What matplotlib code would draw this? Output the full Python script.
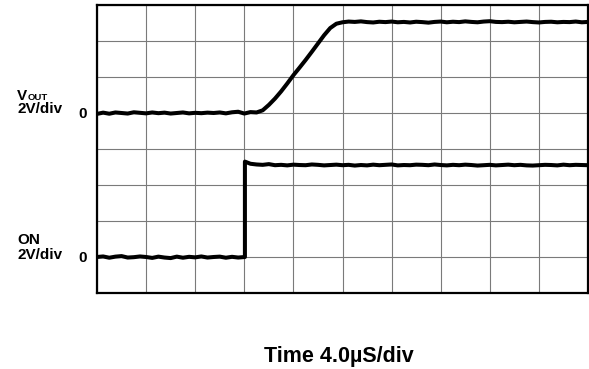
import matplotlib.pyplot as plt

plt.rcParams["font.family"] = ["Liberation Sans", "DejaVu Sans"]

# time in microseconds (4.0 us/div, 10 divisions)
vout_time = [0.0, 0.5, 1.0, 1.5, 2.0, 2.5, 3.0, 3.5, 4.0, 4.5, 5.0, 5.5, 6.0, 6.5,
             7.0, 7.5, 8.0, 8.5, 9.0, 9.5, 10.0, 10.5, 11.0, 11.5, 12.0, 12.5, 13.0,
             13.5, 14.0, 14.5, 15.0, 15.5, 16.0, 16.5, 17.0, 17.5, 18.0, 18.5, 19.0,
             19.5, 20.0, 20.5, 21.0, 21.5, 22.0, 22.5, 23.0, 23.5, 24.0, 24.5, 25.0,
             25.5, 26.0, 26.5, 27.0, 27.5, 28.0, 28.5, 29.0, 29.5, 30.0, 30.5, 31.0,
             31.5, 32.0, 32.5, 33.0, 33.5, 34.0, 34.5, 35.0, 35.5, 36.0, 36.5, 37.0,
             37.5, 38.0, 38.5, 39.0, 39.5, 40.0]
vout_volts = [-0.05, 0.02, -0.04, 0.03, 0.0, -0.03, 0.04, 0.01, -0.02, 0.03, -0.01,
              0.02, -0.03, 0.0, 0.03, -0.02, 0.01, -0.01, 0.02, 0.0, 0.03, -0.02,
              0.04, 0.07, -0.03, 0.05, 0.03,
              0.15, 0.45, 0.80, 1.20, 1.64, 2.10, 2.52, 2.95, 3.40, 3.86, 4.32, 4.72,
              4.96, 5.04, 5.08, 5.06, 5.09, 5.05, 5.03, 5.07, 5.05, 5.08, 5.04, 5.06,
              5.03, 5.07, 5.05, 5.02, 5.06, 5.08, 5.04, 5.07, 5.05, 5.09, 5.06, 5.04,
              5.08, 5.10, 5.06, 5.05, 5.07, 5.04, 5.06, 5.08, 5.05, 5.03, 5.06, 5.07,
              5.04, 5.06, 5.05, 5.08, 5.04, 5.06]

on_time = [0.0, 0.5, 1.0, 1.5, 2.0, 2.5, 3.0, 3.5, 4.0, 4.5, 5.0, 5.5, 6.0, 6.5,
           7.0, 7.5, 8.0, 8.5, 9.0, 9.5, 10.0, 10.5, 11.0, 11.5, 12.05,
           12.05, 12.5, 13.0, 13.5, 14.0, 14.5, 15.0, 15.5, 16.0, 16.5, 17.0, 17.5,
           18.0, 18.5, 19.0, 19.5, 20.0, 20.5, 21.0, 21.5, 22.0, 22.5, 23.0, 23.5,
           24.0, 24.5, 25.0, 25.5, 26.0, 26.5, 27.0, 27.5, 28.0, 28.5, 29.0, 29.5,
           30.0, 30.5, 31.0, 31.5, 32.0, 32.5, 33.0, 33.5, 34.0, 34.5, 35.0, 35.5,
           36.0, 36.5, 37.0, 37.5, 38.0, 38.5, 39.0, 39.5, 40.0]
on_volts = [0.0, 0.03, -0.04, 0.02, 0.05, -0.03, -0.01, 0.03, 0.0, -0.05, 0.02,
            -0.03, -0.06, 0.02, -0.04, 0.01, -0.02, 0.03, -0.03, 0.0, 0.02, -0.04,
            0.01, -0.03, 0.0,
            5.30, 5.18, 5.14, 5.12, 5.16, 5.10, 5.12, 5.09, 5.13, 5.11, 5.10, 5.14,
            5.12, 5.09, 5.11, 5.13, 5.10, 5.12, 5.08, 5.11, 5.09, 5.13, 5.10, 5.12,
            5.14, 5.09, 5.11, 5.10, 5.13, 5.12, 5.10, 5.14, 5.11, 5.09, 5.12, 5.10,
            5.13, 5.11, 5.08, 5.10, 5.12, 5.09, 5.11, 5.13, 5.10, 5.12, 5.09, 5.08,
            5.10, 5.12, 5.11, 5.09, 5.13, 5.10, 5.12, 5.11, 5.10]

volts_per_div = 2.0
vout_zero_div = 5
on_zero_div = 1

fig = plt.figure(figsize=(5.89, 3.69), dpi=100)
ax = fig.add_axes([97 / 589, 1 - 293 / 369, 491 / 589, 288 / 369])

ax.plot(vout_time, [vout_zero_div + v / volts_per_div for v in vout_volts],
        color="black", linewidth=2.9, solid_capstyle="round", zorder=3)
ax.plot(on_time, [on_zero_div + v / volts_per_div for v in on_volts],
        color="black", linewidth=2.9, solid_capstyle="round", zorder=3)

ax.set_xlim(0, 40)
ax.set_ylim(0, 8)
ax.set_xticks(range(0, 41, 4))
ax.set_yticks(range(0, 9))
ax.tick_params(length=0, labelbottom=False, labelleft=False)
ax.grid(True, color="#7a7a7a", linewidth=0.8)
for spine in ax.spines.values():
    spine.set_linewidth(1.6)
    spine.set_color("black")


# channel labels, placed in pixel coordinates of the figure
def px(x, y):
    return x / 589, 1 - y / 369


fig.text(*px(17, 99.5), "V", fontsize=11, fontweight="bold", va="baseline")
fig.text(*px(27.5, 99.5), "OUT", fontsize=6.8, fontweight="bold", va="baseline")
fig.text(*px(17, 113), "2V/div", fontsize=11, fontweight="bold", va="baseline")
fig.text(*px(78, 118), "0", fontsize=11, fontweight="bold", va="baseline")

fig.text(*px(17, 244), "ON", fontsize=11, fontweight="bold", va="baseline")
fig.text(*px(17, 259), "2V/div", fontsize=11, fontweight="bold", va="baseline")
fig.text(*px(78, 262), "0", fontsize=11, fontweight="bold", va="baseline")

fig.text(*px(339, 362), "Time 4.0\u00b5S/div", fontsize=15.5, fontweight="bold",
         ha="center", va="baseline")

fig.savefig("out.png", dpi=100)
